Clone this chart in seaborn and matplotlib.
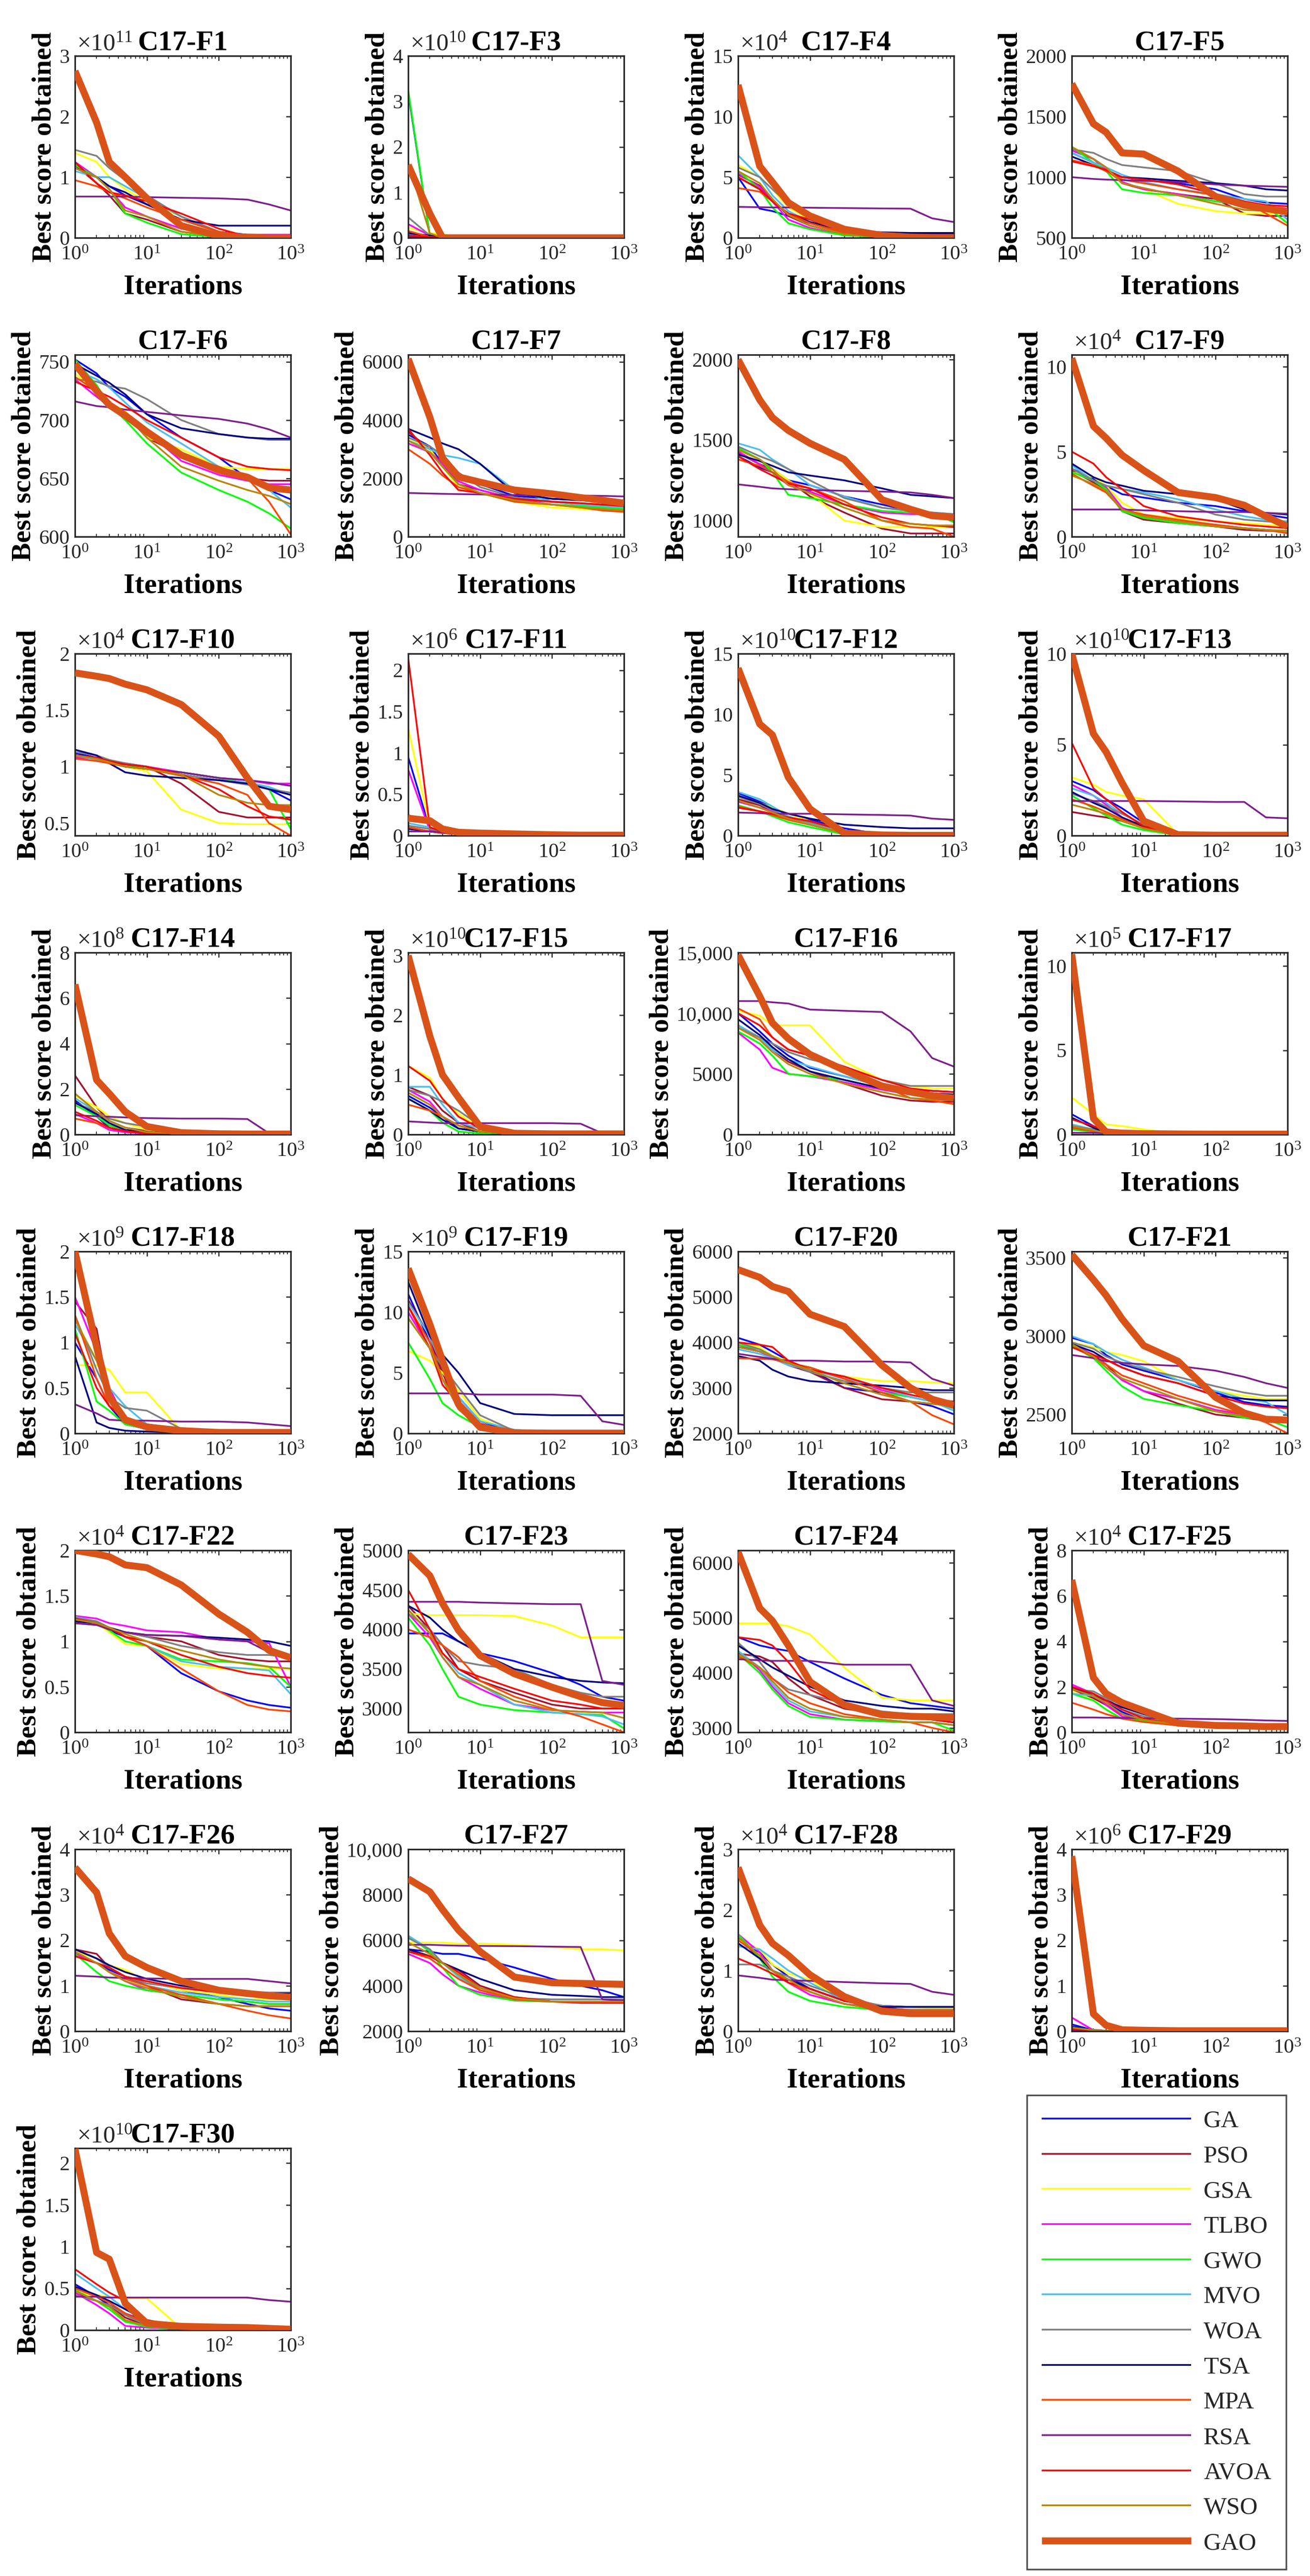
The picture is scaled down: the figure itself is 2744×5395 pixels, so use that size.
import numpy as np
import pandas as pd
import matplotlib
matplotlib.use("Agg")
import matplotlib.pyplot as plt
from matplotlib.lines import Line2D
from matplotlib.ticker import FixedLocator, FixedFormatter
import seaborn as sns

# ---------------------------------------------------------------- data
ALGORITHMS = ["GA", "PSO", "GSA", "TLBO", "GWO", "MVO", "WOA", "TSA",
              "MPA", "RSA", "AVOA", "WSO", "GAO"]
ITERATIONS = [1, 2, 3, 5, 10, 30, 100, 250, 500, 1000]

FUNCTIONS = ["C17-F1", "C17-F3", "C17-F4", "C17-F5", "C17-F6", "C17-F7",
             "C17-F8", "C17-F9", "C17-F10", "C17-F11", "C17-F12", "C17-F13",
             "C17-F14", "C17-F15", "C17-F16", "C17-F17", "C17-F18", "C17-F19",
             "C17-F20", "C17-F21", "C17-F22", "C17-F23", "C17-F24", "C17-F25",
             "C17-F26", "C17-F27", "C17-F28", "C17-F29", "C17-F30"]

# power of ten shown as "x10^n" above each panel (None = plain numbers)
EXPONENTS = [11, 10, 4, None, None, None, None, 4, 4, 6, 10, 10,
             8, 10, None, 5, 9, 9, None, None, 4, None, None, 4,
             4, None, 4, 6, 10]

YLIMS = [(0, 3), (0, 4), (0, 15), (500, 2000), (600, 756), (0, 6240),
         (900, 2030), (0, 10.7), (0.39, 2), (0, 2.2), (0, 15), (0, 10),
         (0, 8), (0, 3.05), (0, 15000), (0, 10.8), (0, 2), (0, 15),
         (2000, 6000), (2380, 3540), (0, 2), (2700, 5000), (2920, 6230), (0, 8),
         (0, 4), (2000, 10000), (0, 3), (0, 4), (0, 2.18)]

YTICKS = [[0, 1, 2, 3], [0, 1, 2, 3, 4], [0, 5, 10, 15], [500, 1000, 1500, 2000],
          [600, 650, 700, 750], [0, 2000, 4000, 6000], [1000, 1500, 2000],
          [0, 5, 10], [0.5, 1, 1.5, 2], [0, 0.5, 1, 1.5, 2], [0, 5, 10, 15],
          [0, 5, 10], [0, 2, 4, 6, 8], [0, 1, 2, 3], [0, 5000, 10000, 15000],
          [0, 5, 10], [0, 0.5, 1, 1.5, 2], [0, 5, 10, 15],
          [2000, 3000, 4000, 5000, 6000], [2500, 3000, 3500],
          [0, 0.5, 1, 1.5, 2], [3000, 3500, 4000, 4500, 5000],
          [3000, 4000, 5000, 6000], [0, 2, 4, 6, 8], [0, 1, 2, 3, 4],
          [2000, 4000, 6000, 8000, 10000], [0, 1, 2, 3], [0, 1, 2, 3, 4],
          [0, 0.5, 1, 1.5, 2]]

YTICKLABELS = [["0", "1", "2", "3"], ["0", "1", "2", "3", "4"], ["0", "5", "10", "15"],
               ["500", "1000", "1500", "2000"], ["600", "650", "700", "750"],
               ["0", "2000", "4000", "6000"], ["1000", "1500", "2000"],
               ["0", "5", "10"], ["0.5", "1", "1.5", "2"], ["0", "0.5", "1", "1.5", "2"],
               ["0", "5", "10", "15"], ["0", "5", "10"], ["0", "2", "4", "6", "8"],
               ["0", "1", "2", "3"], ["0", "5000", "10,000", "15,000"],
               ["0", "5", "10"], ["0", "0.5", "1", "1.5", "2"], ["0", "5", "10", "15"],
               ["2000", "3000", "4000", "5000", "6000"], ["2500", "3000", "3500"],
               ["0", "0.5", "1", "1.5", "2"], ["3000", "3500", "4000", "4500", "5000"],
               ["3000", "4000", "5000", "6000"], ["0", "2", "4", "6", "8"],
               ["0", "1", "2", "3", "4"], ["2000", "4000", "6000", "8000", "10,000"],
               ["0", "1", "2", "3"], ["0", "1", "2", "3", "4"], ["0", "0.5", "1", "1.5", "2"]]

# Rows: GA, PSO, GSA, TLBO, GWO, MVO, WOA, TSA, MPA, RSA, AVOA, WSO, GAO
# Values are in the units shown on each panel's y axis (before x10^n).
F1 = [[1.20, 1.00, 0.85, 0.70, 0.55, 0.30, 0.10, 0.05, 0.05, 0.05],
      [1.20, 0.90, 0.70, 0.40, 0.30, 0.10, 0.02, 0.01, 0.01, 0.01],
      [1.40, 1.25, 1.00, 0.80, 0.60, 0.35, 0.10, 0.02, 0.01, 0.01],
      [1.25, 1.00, 0.80, 0.50, 0.35, 0.15, 0.05, 0.05, 0.05, 0.05],
      [1.20, 1.00, 0.80, 0.40, 0.25, 0.06, 0.01, 0.00, 0.00, 0.00],
      [1.10, 1.00, 1.00, 0.85, 0.65, 0.35, 0.10, 0.02, 0.01, 0.01],
      [1.45, 1.35, 1.15, 0.95, 0.70, 0.35, 0.10, 0.02, 0.01, 0.01],
      [1.15, 1.00, 0.85, 0.75, 0.55, 0.30, 0.20, 0.20, 0.20, 0.20],
      [0.95, 0.85, 0.75, 0.65, 0.50, 0.30, 0.10, 0.02, 0.00, 0.00],
      [0.68, 0.68, 0.68, 0.68, 0.67, 0.66, 0.65, 0.63, 0.55, 0.45],
      [1.25, 0.90, 0.75, 0.70, 0.60, 0.40, 0.15, 0.02, 0.01, 0.01],
      [1.15, 1.00, 0.80, 0.45, 0.35, 0.10, 0.02, 0.00, 0.00, 0.00],
      [2.75, 1.90, 1.25, 1.00, 0.65, 0.20, 0.03, 0.01, 0.00, 0.00]]

F3 = [[3.20, 0.05, 0.00, 0.00, 0.00, 0.00, 0.00, 0.00, 0.00, 0.00],
      [0.12, 0.02, 0.00, 0.00, 0.00, 0.00, 0.00, 0.00, 0.00, 0.00],
      [0.22, 0.10, 0.08, 0.01, 0.00, 0.00, 0.00, 0.00, 0.00, 0.00],
      [0.30, 0.05, 0.00, 0.00, 0.00, 0.00, 0.00, 0.00, 0.00, 0.00],
      [3.25, 0.05, 0.00, 0.00, 0.00, 0.00, 0.00, 0.00, 0.00, 0.00],
      [0.08, 0.02, 0.00, 0.00, 0.00, 0.00, 0.00, 0.00, 0.00, 0.00],
      [0.45, 0.05, 0.00, 0.00, 0.00, 0.00, 0.00, 0.00, 0.00, 0.00],
      [0.10, 0.05, 0.00, 0.00, 0.00, 0.00, 0.00, 0.00, 0.00, 0.00],
      [0.15, 0.02, 0.00, 0.00, 0.00, 0.00, 0.00, 0.00, 0.00, 0.00],
      [0.02, 0.02, 0.01, 0.01, 0.00, 0.00, 0.00, 0.00, 0.00, 0.00],
      [0.05, 0.02, 0.00, 0.00, 0.00, 0.00, 0.00, 0.00, 0.00, 0.00],
      [1.65, 0.10, 0.00, 0.00, 0.00, 0.00, 0.00, 0.00, 0.00, 0.00],
      [1.60, 0.53, 0.00, 0.00, 0.00, 0.00, 0.00, 0.00, 0.00, 0.00]]

F4 = [[5.0, 2.4, 2.2, 1.8, 1.2, 0.5, 0.3, 0.3, 0.3, 0.3],
      [5.2, 4.3, 3.2, 1.8, 1.0, 0.3, 0.05, 0.02, 0.02, 0.02],
      [6.0, 5.0, 4.0, 2.5, 1.5, 0.5, 0.1, 0.05, 0.05, 0.05],
      [5.3, 4.2, 3.0, 1.5, 0.8, 0.2, 0.05, 0.02, 0.02, 0.02],
      [5.5, 4.0, 2.5, 1.2, 0.7, 0.2, 0.05, 0.02, 0.02, 0.02],
      [6.8, 5.0, 3.5, 2.2, 1.3, 0.4, 0.1, 0.05, 0.05, 0.05],
      [5.8, 5.0, 4.0, 2.8, 1.8, 0.8, 0.3, 0.2, 0.2, 0.2],
      [5.0, 4.0, 3.0, 2.0, 1.3, 0.6, 0.45, 0.4, 0.4, 0.4],
      [4.1, 3.8, 3.0, 2.0, 1.2, 0.4, 0.1, 0.02, 0.01, 0.01],
      [2.55, 2.52, 2.5, 2.5, 2.48, 2.45, 2.42, 2.4, 1.6, 1.3],
      [5.0, 4.0, 3.0, 2.0, 1.5, 0.5, 0.1, 0.05, 0.05, 0.05],
      [5.5, 4.5, 3.2, 1.9, 1.0, 0.3, 0.05, 0.02, 0.02, 0.02],
      [12.6, 5.9, 4.6, 2.9, 1.8, 0.7, 0.2, 0.05, 0.02, 0.02]]

F5 = [[1200, 1120, 1060, 1000, 975, 950, 900, 820, 790, 780],
      [1240, 1150, 1080, 950, 900, 860, 820, 700, 680, 680],
      [1130, 1100, 1050, 960, 900, 780, 720, 700, 700, 700],
      [1220, 1150, 1060, 960, 900, 860, 800, 770, 760, 740],
      [1250, 1120, 1050, 900, 870, 850, 800, 780, 760, 620],
      [1200, 1120, 1080, 1020, 960, 900, 860, 820, 800, 650],
      [1230, 1200, 1150, 1100, 1080, 1050, 950, 860, 840, 840],
      [1170, 1100, 1050, 1000, 990, 970, 950, 930, 900, 890],
      [1140, 1100, 1050, 980, 950, 900, 850, 800, 700, 600],
      [1000, 985, 980, 975, 970, 960, 940, 930, 925, 920],
      [1130, 1090, 1060, 1000, 980, 940, 860, 800, 770, 760],
      [1250, 1150, 1080, 950, 910, 850, 780, 730, 720, 700],
      [1770, 1440, 1370, 1200, 1190, 1050, 840, 770, 740, 715]]

F6 = [[752, 740, 728, 720, 705, 685, 668, 650, 640, 632],
      [745, 728, 715, 705, 685, 670, 660, 650, 648, 648],
      [740, 725, 715, 708, 685, 675, 660, 658, 658, 658],
      [735, 720, 712, 705, 690, 665, 653, 648, 645, 645],
      [752, 730, 713, 700, 680, 655, 640, 630, 620, 607],
      [743, 735, 728, 715, 698, 680, 660, 650, 640, 625],
      [735, 733, 729, 727, 718, 700, 688, 685, 683, 683],
      [748, 738, 732, 722, 705, 693, 688, 685, 684, 684],
      [737, 725, 715, 705, 690, 670, 660, 650, 630, 602],
      [716, 712, 711, 709, 707, 704, 701, 697, 692, 685],
      [733, 725, 720, 712, 700, 685, 668, 660, 658, 657],
      [745, 725, 715, 705, 685, 660, 648, 640, 635, 628],
      [748, 725, 713, 704, 690, 670, 657, 651, 642, 640]]

F7 = [[3500, 3100, 2500, 2000, 1800, 1400, 1300, 1250, 1200, 1200],
      [3600, 3000, 2500, 1800, 1600, 1300, 1200, 1100, 1050, 1000],
      [3400, 3000, 2400, 1700, 1500, 1200, 1000, 950, 920, 900],
      [3200, 2900, 2500, 1900, 1600, 1300, 1100, 1050, 1000, 1000],
      [3300, 2900, 2400, 1800, 1500, 1200, 1100, 1050, 1000, 950],
      [3300, 3000, 2800, 2700, 2500, 1600, 1200, 1100, 1050, 1000],
      [3400, 3100, 2800, 2200, 1700, 1350, 1200, 1150, 1100, 1100],
      [3700, 3400, 3200, 3000, 2500, 1500, 1300, 1250, 1250, 1250],
      [3000, 2500, 2100, 1700, 1500, 1200, 1100, 1000, 900, 850],
      [1500, 1480, 1470, 1460, 1450, 1430, 1420, 1410, 1400, 1380],
      [3700, 2800, 2200, 1600, 1500, 1300, 1200, 1150, 1100, 1050],
      [3300, 2900, 2400, 1800, 1500, 1250, 1100, 1000, 950, 900],
      [6100, 4100, 2700, 2050, 1870, 1600, 1470, 1340, 1250, 1150]]

F8 = [[1400, 1330, 1300, 1250, 1220, 1150, 1100, 1060, 1040, 1000],
      [1420, 1350, 1320, 1250, 1150, 1050, 950, 920, 920, 920],
      [1440, 1380, 1320, 1250, 1170, 1000, 960, 960, 960, 960],
      [1430, 1350, 1300, 1220, 1180, 1100, 1050, 1040, 1040, 1020],
      [1450, 1380, 1300, 1160, 1140, 1100, 1060, 1050, 1050, 990],
      [1480, 1440, 1380, 1320, 1220, 1150, 1080, 1060, 1050, 1040],
      [1460, 1400, 1370, 1320, 1250, 1140, 1080, 1060, 1050, 1040],
      [1410, 1370, 1340, 1300, 1280, 1250, 1200, 1160, 1150, 1140],
      [1380, 1340, 1300, 1240, 1200, 1120, 1000, 960, 950, 900],
      [1225, 1210, 1200, 1195, 1190, 1185, 1180, 1175, 1160, 1140],
      [1400, 1320, 1280, 1230, 1200, 1100, 1020, 980, 970, 960],
      [1440, 1380, 1320, 1220, 1170, 1080, 1000, 980, 970, 970],
      [2000, 1750, 1640, 1560, 1480, 1380, 1130, 1070, 1030, 1020]]

F9 = [[4.0, 3.4, 3.0, 2.5, 2.3, 2.0, 1.8, 1.5, 1.3, 1.1],
      [3.9, 3.2, 2.8, 1.5, 1.0, 0.8, 0.6, 0.4, 0.35, 0.3],
      [3.8, 3.5, 3.0, 2.0, 1.3, 1.1, 0.9, 0.8, 0.7, 0.6],
      [3.8, 3.3, 2.9, 1.7, 1.2, 0.9, 0.7, 0.5, 0.4, 0.3],
      [3.8, 3.3, 2.8, 1.5, 1.1, 0.8, 0.6, 0.5, 0.4, 0.3],
      [4.2, 3.3, 3.0, 2.8, 2.6, 2.2, 1.6, 1.2, 1.0, 0.9],
      [4.0, 3.3, 3.0, 2.8, 2.5, 2.0, 1.3, 1.0, 0.9, 0.8],
      [4.3, 3.5, 3.2, 3.0, 2.7, 2.5, 2.2, 1.6, 1.4, 1.3],
      [3.7, 3.0, 2.6, 1.6, 1.3, 1.0, 0.7, 0.5, 0.4, 0.2],
      [1.6, 1.6, 1.6, 1.6, 1.55, 1.5, 1.45, 1.45, 1.4, 1.35],
      [5.0, 4.3, 3.5, 2.8, 1.8, 1.2, 0.9, 0.7, 0.6, 0.5],
      [3.6, 3.1, 2.7, 1.6, 1.2, 0.9, 0.6, 0.5, 0.4, 0.35],
      [10.5, 6.5, 5.8, 4.8, 3.9, 2.6, 2.3, 1.85, 1.2, 0.6]]

F10 = [[1.12, 1.08, 1.05, 1.00, 0.98, 0.95, 0.90, 0.85, 0.80, 0.70],
       [1.10, 1.07, 1.05, 1.02, 1.00, 0.85, 0.60, 0.55, 0.55, 0.55],
       [1.08, 1.06, 1.04, 1.00, 0.96, 0.62, 0.50, 0.49, 0.49, 0.49],
       [1.08, 1.07, 1.05, 1.03, 1.00, 0.95, 0.90, 0.88, 0.85, 0.85],
       [1.10, 1.07, 1.05, 1.02, 0.98, 0.95, 0.90, 0.85, 0.80, 0.45],
       [1.10, 1.06, 1.04, 1.00, 0.98, 0.93, 0.88, 0.86, 0.82, 0.75],
       [1.13, 1.10, 1.06, 1.03, 1.00, 0.93, 0.88, 0.84, 0.80, 0.77],
       [1.15, 1.10, 1.03, 0.95, 0.92, 0.90, 0.88, 0.85, 0.80, 0.75],
       [1.07, 1.05, 1.03, 1.00, 0.98, 0.92, 0.85, 0.75, 0.50, 0.39],
       [1.10, 1.08, 1.05, 1.00, 0.98, 0.95, 0.90, 0.88, 0.86, 0.83],
       [1.10, 1.08, 1.05, 1.02, 1.00, 0.93, 0.80, 0.65, 0.56, 0.53],
       [1.10, 1.07, 1.04, 1.00, 0.98, 0.93, 0.75, 0.68, 0.66, 0.66],
       [1.83, 1.80, 1.78, 1.73, 1.68, 1.55, 1.27, 0.90, 0.65, 0.62]]

F11 = [[0.95, 0.08, 0.04, 0.02, 0.01, 0.005, 0.003, 0.002, 0.002, 0.002],
       [0.10, 0.05, 0.03, 0.02, 0.01, 0.005, 0.003, 0.002, 0.002, 0.002],
       [1.30, 0.10, 0.05, 0.03, 0.02, 0.010, 0.005, 0.003, 0.002, 0.002],
       [0.80, 0.06, 0.03, 0.02, 0.01, 0.005, 0.003, 0.002, 0.002, 0.002],
       [0.25, 0.15, 0.05, 0.03, 0.02, 0.010, 0.005, 0.003, 0.002, 0.002],
       [0.15, 0.10, 0.05, 0.03, 0.02, 0.010, 0.005, 0.003, 0.002, 0.002],
       [0.12, 0.08, 0.05, 0.03, 0.02, 0.010, 0.005, 0.003, 0.002, 0.002],
       [0.08, 0.05, 0.03, 0.02, 0.01, 0.005, 0.003, 0.002, 0.002, 0.002],
       [0.10, 0.05, 0.03, 0.02, 0.01, 0.005, 0.003, 0.002, 0.002, 0.002],
       [0.05, 0.05, 0.04, 0.03, 0.02, 0.010, 0.005, 0.003, 0.002, 0.002],
       [2.15, 0.10, 0.05, 0.03, 0.02, 0.010, 0.005, 0.003, 0.002, 0.002],
       [0.20, 0.15, 0.05, 0.03, 0.02, 0.010, 0.005, 0.003, 0.002, 0.002],
       [0.21, 0.18, 0.08, 0.04, 0.03, 0.020, 0.010, 0.005, 0.005, 0.005]]

F12 = [[3.5, 2.8, 2.3, 1.8, 1.3, 0.6, 0.1, 0.05, 0.05, 0.05],
       [3.0, 2.5, 2.0, 1.5, 1.0, 0.3, 0.05, 0.02, 0.02, 0.02],
       [3.3, 2.7, 2.3, 1.8, 1.2, 0.4, 0.05, 0.02, 0.02, 0.02],
       [2.8, 2.3, 2.0, 1.3, 0.9, 0.2, 0.02, 0.01, 0.01, 0.01],
       [2.5, 2.0, 1.6, 1.1, 0.7, 0.1, 0.02, 0.01, 0.01, 0.01],
       [3.6, 3.0, 2.4, 1.6, 1.0, 0.3, 0.05, 0.02, 0.02, 0.02],
       [3.2, 2.6, 2.1, 1.5, 1.1, 0.4, 0.05, 0.02, 0.02, 0.02],
       [3.3, 2.7, 2.2, 1.8, 1.4, 0.9, 0.7, 0.6, 0.6, 0.6],
       [2.4, 2.0, 1.7, 1.3, 0.9, 0.2, 0.02, 0.01, 0.01, 0.01],
       [1.9, 1.85, 1.8, 1.8, 1.8, 1.75, 1.7, 1.65, 1.4, 1.3],
       [2.3, 2.0, 1.8, 1.5, 1.2, 0.4, 0.05, 0.02, 0.02, 0.02],
       [2.9, 2.3, 1.9, 1.4, 0.9, 0.2, 0.02, 0.01, 0.01, 0.01],
       [13.8, 9.2, 8.3, 4.8, 2.2, 0.2, 0.05, 0.02, 0.02, 0.02]]

F13 = [[3.0, 2.5, 2.0, 1.5, 0.7, 0.05, 0.02, 0.02, 0.02, 0.02],
       [1.3, 1.1, 1.0, 0.8, 0.4, 0.03, 0.02, 0.02, 0.02, 0.02],
       [3.2, 2.8, 2.4, 2.2, 2.0, 0.05, 0.02, 0.02, 0.02, 0.02],
       [2.8, 2.2, 1.7, 1.0, 0.5, 0.03, 0.02, 0.02, 0.02, 0.02],
       [2.2, 1.5, 1.1, 0.6, 0.3, 0.02, 0.02, 0.02, 0.02, 0.02],
       [2.6, 2.2, 1.8, 1.2, 0.6, 0.03, 0.02, 0.02, 0.02, 0.02],
       [2.3, 1.9, 1.6, 1.2, 0.6, 0.03, 0.02, 0.02, 0.02, 0.02],
       [2.4, 1.8, 1.5, 1.0, 0.5, 0.10, 0.10, 0.10, 0.10, 0.10],
       [2.0, 1.6, 1.3, 0.9, 0.4, 0.02, 0.02, 0.02, 0.02, 0.02],
       [1.9, 1.9, 1.9, 1.9, 1.9, 1.88, 1.85, 1.85, 1.0, 0.95],
       [5.1, 2.6, 2.0, 1.3, 0.5, 0.05, 0.02, 0.02, 0.02, 0.02],
       [1.7, 1.4, 1.2, 0.8, 0.4, 0.02, 0.02, 0.02, 0.02, 0.02],
       [10.0, 5.6, 4.6, 2.9, 0.8, 0.05, 0.02, 0.02, 0.02, 0.02]]

F14 = [[1.5, 0.8, 0.3, 0.1, 0.05, 0.02, 0.02, 0.02, 0.02, 0.02],
       [2.6, 1.2, 0.6, 0.3, 0.15, 0.05, 0.02, 0.02, 0.02, 0.02],
       [1.7, 1.2, 0.8, 0.5, 0.2, 0.05, 0.02, 0.02, 0.02, 0.02],
       [0.9, 0.5, 0.2, 0.1, 0.05, 0.02, 0.02, 0.02, 0.02, 0.02],
       [1.3, 0.8, 0.4, 0.2, 0.05, 0.02, 0.02, 0.02, 0.02, 0.02],
       [1.6, 1.0, 0.6, 0.3, 0.1, 0.03, 0.02, 0.02, 0.02, 0.02],
       [1.4, 1.0, 0.7, 0.5, 0.35, 0.1, 0.05, 0.03, 0.03, 0.03],
       [1.4, 0.9, 0.5, 0.2, 0.1, 0.05, 0.02, 0.02, 0.02, 0.02],
       [0.7, 0.5, 0.3, 0.15, 0.05, 0.02, 0.02, 0.02, 0.02, 0.02],
       [0.85, 0.8, 0.78, 0.75, 0.72, 0.7, 0.7, 0.68, 0.05, 0.02],
       [1.0, 0.6, 0.3, 0.15, 0.05, 0.02, 0.02, 0.02, 0.02, 0.02],
       [1.8, 1.0, 0.6, 0.3, 0.1, 0.03, 0.02, 0.02, 0.02, 0.02],
       [6.6, 2.4, 1.8, 1.0, 0.35, 0.08, 0.03, 0.02, 0.02, 0.02]]

F15 = [[0.65, 0.45, 0.30, 0.10, 0.05, 0.01, 0.01, 0.01, 0.01, 0.01],
       [0.80, 0.65, 0.40, 0.20, 0.05, 0.01, 0.01, 0.01, 0.01, 0.01],
       [1.15, 0.95, 0.60, 0.35, 0.10, 0.02, 0.01, 0.01, 0.01, 0.01],
       [0.75, 0.55, 0.30, 0.15, 0.05, 0.01, 0.01, 0.01, 0.01, 0.01],
       [0.60, 0.40, 0.20, 0.05, 0.02, 0.01, 0.01, 0.01, 0.01, 0.01],
       [0.80, 0.80, 0.50, 0.20, 0.10, 0.02, 0.01, 0.01, 0.01, 0.01],
       [0.75, 0.65, 0.55, 0.40, 0.15, 0.02, 0.01, 0.01, 0.01, 0.01],
       [0.60, 0.40, 0.25, 0.10, 0.05, 0.01, 0.01, 0.01, 0.01, 0.01],
       [0.50, 0.40, 0.30, 0.15, 0.05, 0.01, 0.01, 0.01, 0.01, 0.01],
       [0.22, 0.20, 0.19, 0.19, 0.19, 0.19, 0.19, 0.18, 0.02, 0.01],
       [1.15, 0.90, 0.60, 0.30, 0.10, 0.02, 0.01, 0.01, 0.01, 0.01],
       [0.70, 0.50, 0.30, 0.15, 0.05, 0.01, 0.01, 0.01, 0.01, 0.01],
       [3.00, 1.65, 1.00, 0.62, 0.13, 0.02, 0.01, 0.01, 0.01, 0.01]]

F16 = [[10000, 8500, 7500, 6500, 5500, 4800, 4000, 3700, 3600, 3500],
       [9000, 8000, 7000, 6000, 5200, 4200, 3200, 2800, 2700, 2700],
       [10200, 9800, 9000, 9000, 9000, 6000, 4500, 4000, 3800, 3800],
       [8400, 7000, 5500, 5000, 4800, 4300, 3700, 3300, 3100, 3000],
       [8500, 7500, 6500, 5000, 4800, 4500, 3800, 3400, 3200, 3100],
       [9000, 8000, 7000, 6200, 5600, 4800, 4000, 3500, 3200, 2800],
       [8800, 8000, 7500, 6800, 6200, 5500, 4500, 4000, 4000, 4000],
       [9500, 8200, 7200, 6200, 5200, 4500, 3800, 3500, 3400, 3300],
       [10400, 9500, 8000, 7000, 6500, 5500, 4000, 3000, 2800, 2500],
       [11000, 11000, 10900, 10800, 10300, 10200, 10100, 8500, 6300, 5600],
       [10000, 9000, 8000, 7000, 6500, 5600, 4500, 3800, 3600, 3500],
       [8800, 7800, 6800, 5800, 5000, 4200, 3500, 3000, 2900, 2800],
       [14800, 11400, 9200, 7900, 6600, 5300, 4000, 3500, 3200, 3000]]

F17 = [[1.2, 0.5, 0.2, 0.1, 0.05, 0.02, 0.02, 0.02, 0.02, 0.02],
       [0.5, 0.3, 0.1, 0.05, 0.03, 0.02, 0.02, 0.02, 0.02, 0.02],
       [2.2, 1.2, 0.6, 0.5, 0.3, 0.05, 0.02, 0.02, 0.02, 0.02],
       [0.4, 0.2, 0.1, 0.05, 0.03, 0.02, 0.02, 0.02, 0.02, 0.02],
       [0.3, 0.15, 0.08, 0.04, 0.03, 0.02, 0.02, 0.02, 0.02, 0.02],
       [0.6, 0.3, 0.15, 0.08, 0.04, 0.02, 0.02, 0.02, 0.02, 0.02],
       [0.5, 0.3, 0.15, 0.08, 0.04, 0.02, 0.02, 0.02, 0.02, 0.02],
       [1.0, 0.4, 0.1, 0.05, 0.03, 0.02, 0.02, 0.02, 0.02, 0.02],
       [0.4, 0.2, 0.1, 0.05, 0.03, 0.02, 0.02, 0.02, 0.02, 0.02],
       [0.1, 0.1, 0.08, 0.05, 0.03, 0.02, 0.02, 0.02, 0.02, 0.02],
       [0.9, 0.5, 0.2, 0.1, 0.05, 0.02, 0.02, 0.02, 0.02, 0.02],
       [0.5, 0.25, 0.1, 0.05, 0.03, 0.02, 0.02, 0.02, 0.02, 0.02],
       [10.7, 0.95, 0.15, 0.08, 0.05, 0.03, 0.02, 0.02, 0.02, 0.02]]

F18 = [[1.00, 0.60, 0.30, 0.10, 0.05, 0.02, 0.01, 0.01, 0.01, 0.01],
       [1.45, 1.15, 0.40, 0.15, 0.10, 0.05, 0.02, 0.01, 0.01, 0.01],
       [0.75, 0.75, 0.70, 0.45, 0.45, 0.03, 0.02, 0.01, 0.01, 0.01],
       [1.50, 0.90, 0.50, 0.15, 0.05, 0.02, 0.01, 0.01, 0.01, 0.01],
       [1.15, 0.35, 0.25, 0.10, 0.05, 0.02, 0.01, 0.01, 0.01, 0.01],
       [1.20, 0.80, 0.50, 0.30, 0.10, 0.05, 0.02, 0.01, 0.01, 0.01],
       [1.30, 0.70, 0.40, 0.28, 0.25, 0.05, 0.02, 0.01, 0.01, 0.01],
       [0.85, 0.12, 0.06, 0.03, 0.02, 0.01, 0.01, 0.01, 0.01, 0.01],
       [1.30, 0.60, 0.30, 0.15, 0.05, 0.02, 0.01, 0.01, 0.01, 0.01],
       [0.32, 0.22, 0.15, 0.14, 0.14, 0.13, 0.13, 0.12, 0.10, 0.08],
       [1.10, 0.50, 0.30, 0.15, 0.08, 0.03, 0.01, 0.01, 0.01, 0.01],
       [1.25, 0.80, 0.40, 0.15, 0.05, 0.02, 0.01, 0.01, 0.01, 0.01],
       [2.00, 0.95, 0.40, 0.15, 0.07, 0.03, 0.01, 0.01, 0.01, 0.01]]

F19 = [[11.5, 7.5, 5.0, 3.0, 1.0, 0.10, 0.05, 0.05, 0.05, 0.05],
       [11.0, 8.0, 5.0, 2.0, 0.5, 0.05, 0.02, 0.02, 0.02, 0.02],
       [6.8, 6.0, 5.0, 3.5, 1.2, 0.10, 0.05, 0.05, 0.05, 0.05],
       [10.0, 7.0, 4.5, 2.0, 0.5, 0.05, 0.02, 0.02, 0.02, 0.02],
       [7.5, 4.5, 2.5, 1.5, 0.5, 0.05, 0.02, 0.02, 0.02, 0.02],
       [10.8, 8.0, 5.5, 3.0, 1.0, 0.30, 0.05, 0.05, 0.05, 0.05],
       [9.5, 7.0, 5.5, 3.8, 1.5, 0.20, 0.05, 0.05, 0.05, 0.05],
       [12.5, 8.0, 6.5, 5.0, 2.5, 1.60, 1.50, 1.50, 1.50, 1.50],
       [10.5, 7.5, 4.5, 2.5, 0.8, 0.05, 0.02, 0.02, 0.02, 0.02],
       [3.3, 3.3, 3.3, 3.3, 3.2, 3.20, 3.20, 3.10, 1.00, 0.70],
       [10.5, 7.0, 4.0, 2.5, 0.8, 0.05, 0.02, 0.02, 0.02, 0.02],
       [9.5, 7.0, 4.5, 2.0, 0.5, 0.05, 0.02, 0.02, 0.02, 0.02],
       [13.6, 9.0, 6.0, 2.4, 0.5, 0.05, 0.02, 0.02, 0.02, 0.02]]

F20 = [[4100, 3950, 3800, 3600, 3400, 3000, 2900, 2700, 2600, 2420],
       [3900, 3800, 3700, 3500, 3350, 3000, 2750, 2700, 2650, 2600],
       [4000, 3900, 3700, 3600, 3400, 3250, 3150, 3150, 3120, 3100],
       [3950, 3800, 3650, 3500, 3400, 3250, 2950, 2800, 2700, 2700],
       [3950, 3850, 3700, 3550, 3450, 3200, 2900, 2800, 2700, 2550],
       [3850, 3750, 3650, 3500, 3400, 3200, 3000, 2800, 2700, 2500],
       [4000, 3850, 3700, 3550, 3350, 3150, 3000, 2900, 2900, 2900],
       [3700, 3600, 3400, 3250, 3150, 3100, 3050, 3000, 2950, 2950],
       [3650, 3640, 3630, 3550, 3450, 3200, 2900, 2700, 2400, 2200],
       [3750, 3680, 3640, 3600, 3600, 3580, 3580, 3560, 3200, 3050],
       [4000, 3950, 3900, 3600, 3400, 3250, 3000, 2850, 2750, 2700],
       [3900, 3800, 3700, 3550, 3400, 3100, 2850, 2700, 2650, 2600],
       [5600, 5430, 5230, 5120, 4620, 4350, 3500, 3000, 2750, 2620]]

F21 = [[2990, 2950, 2880, 2820, 2780, 2720, 2640, 2580, 2560, 2550],
       [2950, 2880, 2820, 2720, 2650, 2570, 2500, 2480, 2460, 2460],
       [2960, 2930, 2900, 2880, 2840, 2720, 2650, 2620, 2600, 2600],
       [2950, 2880, 2800, 2720, 2650, 2600, 2530, 2500, 2480, 2480],
       [2940, 2860, 2780, 2680, 2600, 2560, 2520, 2480, 2470, 2420],
       [3000, 2950, 2900, 2850, 2800, 2720, 2650, 2600, 2580, 2500],
       [2960, 2920, 2870, 2830, 2790, 2740, 2680, 2640, 2620, 2620],
       [2950, 2900, 2850, 2800, 2750, 2700, 2620, 2600, 2590, 2590],
       [2930, 2870, 2820, 2750, 2700, 2620, 2550, 2500, 2450, 2380],
       [2880, 2860, 2840, 2830, 2820, 2810, 2780, 2740, 2700, 2670],
       [2930, 2880, 2850, 2800, 2750, 2700, 2620, 2570, 2550, 2540],
       [2950, 2870, 2800, 2730, 2680, 2600, 2520, 2490, 2480, 2480],
       [3520, 3360, 3260, 3110, 2940, 2840, 2610, 2510, 2470, 2465]]

F22 = [[1.25, 1.20, 1.12, 1.05, 0.95, 0.65, 0.45, 0.35, 0.30, 0.27],
       [1.20, 1.18, 1.15, 1.10, 1.05, 1.00, 0.85, 0.80, 0.78, 0.78],
       [1.25, 1.20, 1.10, 0.97, 0.95, 0.75, 0.70, 0.70, 0.70, 0.70],
       [1.28, 1.25, 1.20, 1.17, 1.12, 1.10, 1.02, 1.00, 0.98, 0.50],
       [1.25, 1.20, 1.12, 1.00, 0.95, 0.80, 0.78, 0.76, 0.72, 0.50],
       [1.27, 1.22, 1.15, 1.05, 0.95, 0.78, 0.72, 0.70, 0.68, 0.42],
       [1.26, 1.22, 1.15, 1.10, 1.05, 0.95, 0.88, 0.85, 0.85, 0.82],
       [1.22, 1.20, 1.15, 1.10, 1.07, 1.06, 1.04, 1.02, 1.00, 0.95],
       [1.25, 1.20, 1.15, 1.05, 0.95, 0.70, 0.45, 0.30, 0.25, 0.23],
       [1.20, 1.18, 1.13, 1.10, 1.07, 1.06, 1.02, 1.00, 0.88, 0.85],
       [1.25, 1.20, 1.15, 1.05, 1.00, 0.85, 0.72, 0.65, 0.62, 0.60],
       [1.24, 1.20, 1.15, 1.08, 1.00, 0.90, 0.80, 0.75, 0.72, 0.70],
       [2.00, 1.96, 1.93, 1.84, 1.81, 1.62, 1.30, 1.10, 0.90, 0.82]]

F23 = [[3950, 3950, 3950, 3850, 3700, 3600, 3450, 3300, 3150, 3100],
       [4300, 4000, 3800, 3500, 3350, 3200, 3050, 3000, 3000, 3000],
       [4200, 4180, 4180, 4180, 4180, 4170, 4050, 3900, 3900, 3900],
       [4200, 3900, 3650, 3400, 3250, 3050, 2980, 2960, 2950, 2950],
       [4150, 3800, 3500, 3150, 3050, 2980, 2950, 2930, 2920, 2750],
       [4250, 3950, 3700, 3450, 3300, 3050, 2950, 2930, 2900, 2800],
       [4200, 4000, 3800, 3600, 3550, 3500, 3300, 3200, 3150, 3150],
       [4300, 4150, 4000, 3850, 3700, 3500, 3400, 3350, 3330, 3320],
       [4000, 3900, 3800, 3650, 3350, 3150, 3000, 2900, 2800, 2700],
       [4350, 4350, 4350, 4350, 4340, 4330, 4320, 4320, 3350, 3300],
       [4500, 4000, 3700, 3500, 3400, 3250, 3100, 3050, 3000, 3000],
       [4250, 3950, 3650, 3400, 3300, 3100, 2980, 2960, 2950, 2880],
       [4950, 4680, 4330, 3990, 3670, 3440, 3270, 3150, 3075, 3040]]

F24 = [[4650, 4500, 4450, 4400, 4200, 3900, 3600, 3450, 3400, 3350],
       [4350, 4300, 4200, 3900, 3600, 3350, 3250, 3200, 3150, 3100],
       [4900, 4900, 4900, 4850, 4700, 4100, 3550, 3500, 3500, 3500],
       [4400, 4050, 3750, 3450, 3250, 3150, 3120, 3100, 3100, 3050],
       [4350, 4000, 3700, 3400, 3200, 3150, 3120, 3100, 3100, 2950],
       [4400, 4100, 3800, 3500, 3300, 3200, 3150, 3100, 3100, 3050],
       [4550, 4200, 3900, 3700, 3600, 3450, 3300, 3250, 3250, 3250],
       [4500, 4250, 4100, 3950, 3750, 3500, 3400, 3350, 3350, 3300],
       [4300, 4100, 3900, 3650, 3450, 3250, 3150, 3100, 3000, 2920],
       [4250, 4230, 4220, 4220, 4220, 4150, 4150, 4150, 3500, 3400],
       [4650, 4600, 4500, 4200, 3700, 3400, 3250, 3200, 3150, 3100],
       [4350, 4100, 3850, 3550, 3350, 3200, 3150, 3100, 3100, 3050],
       [6200, 5180, 4950, 4500, 3840, 3420, 3240, 3210, 3200, 3190]]

F25 = [[2.0, 1.6, 1.3, 0.9, 0.5, 0.30, 0.30, 0.30, 0.30, 0.30],
       [1.9, 1.5, 1.2, 0.8, 0.5, 0.35, 0.30, 0.30, 0.30, 0.30],
       [1.8, 1.4, 1.0, 0.6, 0.5, 0.35, 0.30, 0.30, 0.30, 0.30],
       [2.1, 1.7, 1.2, 0.7, 0.5, 0.35, 0.30, 0.30, 0.30, 0.30],
       [1.7, 1.4, 1.0, 0.6, 0.5, 0.35, 0.30, 0.30, 0.30, 0.30],
       [1.7, 1.6, 1.5, 1.2, 0.8, 0.40, 0.30, 0.30, 0.30, 0.30],
       [1.9, 1.8, 1.5, 1.0, 0.7, 0.40, 0.30, 0.30, 0.30, 0.30],
       [2.0, 1.6, 1.4, 1.1, 0.8, 0.40, 0.30, 0.30, 0.30, 0.30],
       [1.3, 1.0, 0.8, 0.6, 0.45, 0.30, 0.28, 0.28, 0.28, 0.28],
       [0.65, 0.65, 0.64, 0.63, 0.62, 0.60, 0.58, 0.55, 0.52, 0.50],
       [2.0, 1.7, 1.4, 1.0, 0.6, 0.35, 0.30, 0.30, 0.30, 0.30],
       [1.9, 1.6, 1.3, 0.8, 0.55, 0.35, 0.30, 0.30, 0.30, 0.30],
       [6.7, 2.4, 1.7, 1.3, 0.95, 0.40, 0.30, 0.28, 0.25, 0.25]]

F26 = [[1.70, 1.50, 1.35, 1.20, 1.10, 0.90, 0.75, 0.60, 0.50, 0.45],
       [1.80, 1.70, 1.40, 1.20, 1.00, 0.70, 0.60, 0.55, 0.55, 0.55],
       [1.75, 1.60, 1.45, 1.35, 1.10, 0.90, 0.80, 0.70, 0.70, 0.70],
       [1.70, 1.50, 1.30, 1.10, 0.90, 0.80, 0.70, 0.65, 0.60, 0.60],
       [1.70, 1.30, 1.10, 1.00, 0.90, 0.80, 0.70, 0.65, 0.60, 0.60],
       [1.65, 1.50, 1.30, 1.15, 1.00, 0.85, 0.75, 0.70, 0.65, 0.65],
       [1.80, 1.60, 1.40, 1.20, 1.05, 0.95, 0.90, 0.87, 0.85, 0.85],
       [1.80, 1.60, 1.45, 1.30, 1.15, 1.00, 0.90, 0.85, 0.83, 0.83],
       [1.65, 1.50, 1.30, 1.15, 1.00, 0.80, 0.60, 0.45, 0.35, 0.28],
       [1.22, 1.20, 1.18, 1.17, 1.16, 1.15, 1.15, 1.15, 1.10, 1.05],
       [1.65, 1.50, 1.40, 1.20, 1.10, 0.95, 0.85, 0.80, 0.75, 0.70],
       [1.75, 1.50, 1.30, 1.10, 0.95, 0.75, 0.60, 0.55, 0.55, 0.55],
       [3.60, 3.05, 2.15, 1.65, 1.40, 1.10, 0.90, 0.83, 0.78, 0.75]]

F27 = [[5600, 5500, 5400, 5400, 5200, 4800, 4300, 4000, 3800, 3500],
       [5600, 5300, 5000, 4700, 4000, 3500, 3300, 3300, 3250, 3250],
       [5900, 5900, 5900, 5850, 5850, 5800, 5700, 5600, 5600, 5550],
       [5400, 5000, 4500, 4000, 3700, 3350, 3300, 3300, 3300, 3300],
       [6200, 5500, 4800, 4000, 3600, 3350, 3300, 3300, 3300, 3300],
       [6200, 5600, 5000, 4400, 3800, 3400, 3300, 3300, 3300, 3300],
       [6100, 5600, 5000, 4500, 3800, 3450, 3400, 3400, 3400, 3400],
       [5600, 5300, 5000, 4700, 4300, 3800, 3600, 3550, 3500, 3500],
       [5500, 5200, 4800, 4300, 3800, 3400, 3300, 3250, 3250, 3250],
       [5800, 5800, 5780, 5760, 5750, 5740, 5720, 5700, 3400, 3350],
       [5500, 5300, 5000, 4600, 3900, 3500, 3300, 3250, 3250, 3250],
       [5900, 5400, 5000, 4500, 3900, 3450, 3300, 3300, 3300, 3300],
       [8700, 8130, 7350, 6450, 5500, 4380, 4130, 4100, 4080, 4060]]

F28 = [[1.50, 1.30, 1.10, 0.90, 0.70, 0.50, 0.42, 0.40, 0.40, 0.40],
       [1.55, 1.20, 1.00, 0.85, 0.70, 0.50, 0.38, 0.35, 0.35, 0.35],
       [1.50, 1.35, 1.10, 0.95, 0.85, 0.50, 0.40, 0.40, 0.38, 0.38],
       [1.60, 1.30, 1.00, 0.80, 0.60, 0.45, 0.38, 0.35, 0.35, 0.35],
       [1.60, 1.20, 0.90, 0.65, 0.50, 0.40, 0.35, 0.35, 0.35, 0.35],
       [1.40, 1.35, 1.20, 1.00, 0.80, 0.50, 0.38, 0.35, 0.35, 0.35],
       [1.10, 1.10, 1.00, 0.90, 0.75, 0.55, 0.42, 0.40, 0.40, 0.40],
       [1.45, 1.20, 1.00, 0.85, 0.70, 0.50, 0.40, 0.40, 0.40, 0.40],
       [1.50, 1.25, 1.00, 0.80, 0.65, 0.45, 0.35, 0.33, 0.32, 0.32],
       [0.92, 0.88, 0.85, 0.84, 0.83, 0.81, 0.79, 0.78, 0.65, 0.60],
       [1.20, 1.05, 0.95, 0.80, 0.70, 0.50, 0.38, 0.35, 0.35, 0.35],
       [1.55, 1.25, 1.00, 0.85, 0.65, 0.45, 0.36, 0.35, 0.35, 0.35],
       [2.70, 1.75, 1.45, 1.25, 0.93, 0.57, 0.33, 0.29, 0.29, 0.29]]

F29 = [[0.15, 0.02, 0.01, 0.01, 0.01, 0.01, 0.01, 0.01, 0.01, 0.01],
       [0.05, 0.02, 0.01, 0.01, 0.01, 0.01, 0.01, 0.01, 0.01, 0.01],
       [0.08, 0.03, 0.01, 0.01, 0.01, 0.01, 0.01, 0.01, 0.01, 0.01],
       [0.30, 0.02, 0.01, 0.01, 0.01, 0.01, 0.01, 0.01, 0.01, 0.01],
       [0.10, 0.02, 0.01, 0.01, 0.01, 0.01, 0.01, 0.01, 0.01, 0.01],
       [0.05, 0.02, 0.01, 0.01, 0.01, 0.01, 0.01, 0.01, 0.01, 0.01],
       [0.08, 0.03, 0.01, 0.01, 0.01, 0.01, 0.01, 0.01, 0.01, 0.01],
       [0.10, 0.02, 0.01, 0.01, 0.01, 0.01, 0.01, 0.01, 0.01, 0.01],
       [0.05, 0.02, 0.01, 0.01, 0.01, 0.01, 0.01, 0.01, 0.01, 0.01],
       [0.02, 0.02, 0.01, 0.01, 0.01, 0.01, 0.01, 0.01, 0.01, 0.01],
       [0.05, 0.02, 0.01, 0.01, 0.01, 0.01, 0.01, 0.01, 0.01, 0.01],
       [0.08, 0.02, 0.01, 0.01, 0.01, 0.01, 0.01, 0.01, 0.01, 0.01],
       [3.85, 0.38, 0.13, 0.03, 0.02, 0.01, 0.01, 0.01, 0.01, 0.01]]

F30 = [[0.55, 0.40, 0.30, 0.20, 0.10, 0.02, 0.01, 0.01, 0.01, 0.01],
       [0.45, 0.35, 0.30, 0.15, 0.05, 0.02, 0.01, 0.01, 0.01, 0.01],
       [0.45, 0.42, 0.40, 0.38, 0.38, 0.02, 0.01, 0.01, 0.01, 0.01],
       [0.45, 0.30, 0.20, 0.05, 0.03, 0.01, 0.01, 0.01, 0.01, 0.01],
       [0.48, 0.35, 0.25, 0.10, 0.04, 0.01, 0.01, 0.01, 0.01, 0.01],
       [0.68, 0.50, 0.40, 0.25, 0.10, 0.03, 0.01, 0.01, 0.01, 0.01],
       [0.42, 0.35, 0.30, 0.18, 0.06, 0.02, 0.01, 0.01, 0.01, 0.01],
       [0.52, 0.42, 0.35, 0.25, 0.12, 0.03, 0.01, 0.01, 0.01, 0.01],
       [0.50, 0.40, 0.33, 0.20, 0.08, 0.02, 0.01, 0.01, 0.01, 0.01],
       [0.40, 0.40, 0.39, 0.39, 0.39, 0.39, 0.39, 0.39, 0.36, 0.34],
       [0.73, 0.55, 0.45, 0.35, 0.12, 0.05, 0.02, 0.01, 0.01, 0.01],
       [0.47, 0.35, 0.28, 0.12, 0.05, 0.02, 0.01, 0.01, 0.01, 0.01],
       [2.17, 0.93, 0.85, 0.32, 0.08, 0.045, 0.035, 0.03, 0.02, 0.01]]

VALUES = [F1, F3, F4, F5, F6, F7, F8, F9, F10, F11, F12, F13, F14, F15, F16,
          F17, F18, F19, F20, F21, F22, F23, F24, F25, F26, F27, F28, F29, F30]

# ---------------------------------------------------------------- style
PALETTE = {"GA": "#0000FF", "PSO": "#A2142F", "GSA": "#FFFF00", "TLBO": "#FF00FF",
           "GWO": "#00FF00", "MVO": "#4DBEEE", "WOA": "#808080", "TSA": "#000080",
           "MPA": "#FF4500", "RSA": "#7E1E8E", "AVOA": "#FF0000", "WSO": "#B8860B",
           "GAO": "#D95319"}
WIDTHS = {a: 2.6 for a in ALGORITHMS}
WIDTHS["GAO"] = 10.5

sns.set_theme(style="white")
plt.rcParams["font.family"] = ["Liberation Serif", "DejaVu Serif"]
plt.rcParams["mathtext.fontset"] = "custom"
plt.rcParams["mathtext.rm"] = "Liberation Serif"
plt.rcParams["mathtext.it"] = "Liberation Serif:italic"
plt.rcParams["mathtext.bf"] = "Liberation Serif:bold"

W, H = 2744, 5395
fig = plt.figure(figsize=(W / 100, H / 100), dpi=100)
fig.patch.set_facecolor("white")

COL_LEFT = [157, 855, 1546, 2245]
ROW_TOP0, ROW_PITCH = 117, 626
AX_W, AX_H = 452, 381
DARK = "#262626"

for i, name in enumerate(FUNCTIONS):
    r, c = divmod(i, 4)
    top = ROW_TOP0 + r * ROW_PITCH
    ax = fig.add_axes([COL_LEFT[c] / W, 1 - (top + AX_H) / H, AX_W / W, AX_H / H])
    exp = EXPONENTS[i]
    scale = 1.0 if exp is None else 10.0 ** exp
    rows = []
    for algo, series in zip(ALGORITHMS, VALUES[i]):
        if len(series) != len(ITERATIONS):
            raise ValueError(f"{name} {algo} has {len(series)} values")
        for it, v in zip(ITERATIONS, series):
            rows.append((it, v * scale, algo))
    df = pd.DataFrame(rows, columns=["Iteration", "Score", "Algorithm"])
    sns.lineplot(data=df, x="Iteration", y="Score", hue="Algorithm",
                 hue_order=ALGORITHMS, palette=PALETTE, size="Algorithm",
                 size_order=ALGORITHMS, sizes=WIDTHS, estimator=None,
                 errorbar=None, sort=False, legend=False, ax=ax)
    for ln in ax.lines:
        if ln.get_linewidth() > 5:
            ln.set_zorder(5)
        ln.set_solid_joinstyle("round")
        ln.set_solid_capstyle("butt")

    ax.set_xscale("log")
    ax.set_xlim(1, 1000)
    lo, hi = YLIMS[i]
    ax.set_ylim(lo * scale, hi * scale)
    ax.yaxis.set_major_locator(FixedLocator([t * scale for t in YTICKS[i]]))
    ax.yaxis.set_major_formatter(FixedFormatter(YTICKLABELS[i]))
    ax.yaxis.set_minor_locator(FixedLocator([]))

    ax.tick_params(axis="both", which="major", direction="in", length=7, width=1.8,
                   top=True, right=True, labelsize=31, colors=DARK, pad=8)
    ax.tick_params(axis="x", which="minor", direction="in", length=4, width=1.3,
                   top=True, bottom=True, colors=DARK)
    ax.tick_params(axis="x", which="major", pad=12)
    for sp in ax.spines.values():
        sp.set_visible(True)
        sp.set_color(DARK)
        sp.set_linewidth(2.4)

    ax.set_xlabel("Iterations", fontsize=43, fontweight="bold", color="black")
    ax.xaxis.set_label_coords(0.5, -0.2)
    ax.set_ylabel("Best score obtained", fontsize=42, fontweight="bold",
                  color="black", labelpad=4)
    ax.set_title(name, fontsize=43, fontweight="bold", color="black", pad=9)
    if exp is not None:
        ax.annotate("×$\\mathdefault{10^{%d}}$" % exp, xy=(0, 1), xycoords="axes fraction",
                    xytext=(3, 9), textcoords="offset points", ha="left", va="baseline",
                    fontsize=37, color=DARK)

# ---------------------------------------------------------------- legend
handles = [Line2D([0], [0], color=PALETTE[a], lw=WIDTHS[a], solid_capstyle="butt")
           for a in ALGORITHMS]
leg = fig.legend(handles, ALGORITHMS, loc="upper left",
                 bbox_to_anchor=(2151 / W, 1 - 4388 / H), frameon=True,
                 fontsize=37, handlelength=6.1, handletextpad=0.5,
                 labelspacing=0.52, borderpad=0.6, borderaxespad=0,
                 fancybox=False, edgecolor=DARK)
leg.get_frame().set_linewidth(2.5)
leg.get_frame().set_facecolor("white")

fig.savefig("out.png", dpi=100, facecolor="white")
